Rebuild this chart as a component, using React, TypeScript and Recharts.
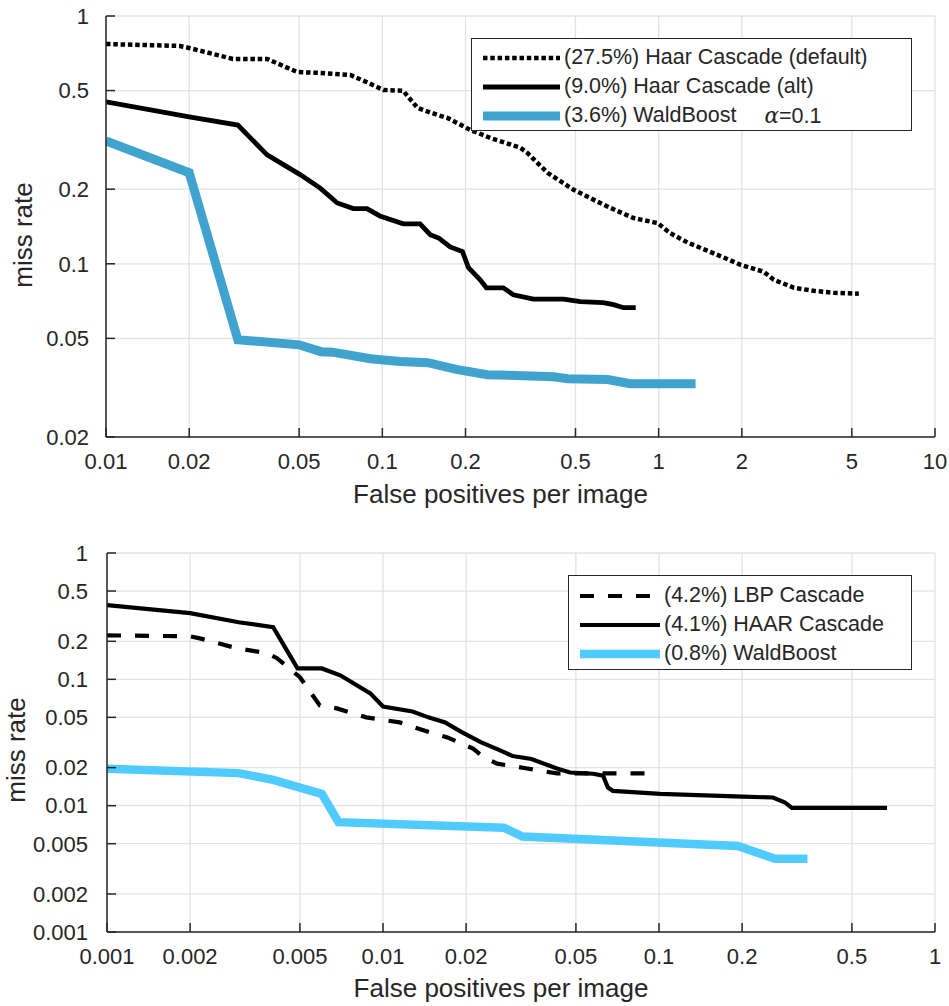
import React from "react";
import { CartesianGrid, Legend, Line, LineChart, XAxis, YAxis } from "recharts";

// top panel, alpha = 0.1
const haarDefaultFp = [0.01, 0.0185, 0.02, 0.0288, 0.0383, 0.0492, 0.058, 0.0664, 0.0766, 0.088, 0.101, 0.119, 0.134, 0.158, 0.172, 0.208, 0.246, 0.316, 0.335, 0.396, 0.492, 0.601, 0.67, 0.811, 0.991, 1.1, 1.27, 1.72, 1.98, 2.4, 2.61, 3.09, 3.63, 4.3, 5.3];
const haarDefaultMiss = [0.771, 0.757, 0.743, 0.671, 0.671, 0.594, 0.59, 0.584, 0.578, 0.54, 0.503, 0.499, 0.426, 0.399, 0.388, 0.347, 0.322, 0.294, 0.28, 0.233, 0.199, 0.178, 0.168, 0.153, 0.146, 0.133, 0.122, 0.106, 0.099, 0.0929, 0.0862, 0.08, 0.0778, 0.0764, 0.0757];

const haarAltFp = [0.01, 0.02, 0.03, 0.0383, 0.0504, 0.0596, 0.0687, 0.0785, 0.088, 0.098, 0.119, 0.137, 0.149, 0.16, 0.176, 0.195, 0.205, 0.226, 0.238, 0.274, 0.298, 0.352, 0.453, 0.521, 0.63, 0.687, 0.746, 0.826];
const haarAltMiss = [0.45, 0.392, 0.363, 0.275, 0.229, 0.202, 0.176, 0.167, 0.167, 0.156, 0.145, 0.145, 0.131, 0.127, 0.117, 0.112, 0.0964, 0.0862, 0.08, 0.08, 0.075, 0.072, 0.072, 0.0703, 0.0697, 0.0684, 0.0665, 0.0665];

const waldTopFp = [0.01, 0.02, 0.03, 0.05, 0.06, 0.066, 0.0906, 0.116, 0.146, 0.187, 0.24, 0.417, 0.468, 0.653, 0.79, 1.36];
const waldTopMiss = [0.313, 0.233, 0.0494, 0.0471, 0.0442, 0.044, 0.0414, 0.0403, 0.0399, 0.0374, 0.0357, 0.035, 0.0344, 0.0341, 0.0328, 0.0328];

// bottom panel
const lbpFp = [0.001, 0.002, 0.00217, 0.00296, 0.0038, 0.00413, 0.005, 0.0059, 0.0068, 0.0087, 0.0115, 0.0152, 0.0171, 0.0212, 0.023, 0.0259, 0.0333, 0.0427, 0.097];
const lbpMiss = [0.223, 0.219, 0.211, 0.176, 0.161, 0.147, 0.104, 0.0622, 0.0589, 0.05, 0.0456, 0.0373, 0.0347, 0.0283, 0.0245, 0.0215, 0.0197, 0.018, 0.018];

const haarFp = [0.001, 0.002, 0.003, 0.004, 0.0049, 0.006, 0.007, 0.009, 0.01, 0.0128, 0.0146, 0.0168, 0.019, 0.0225, 0.0272, 0.0295, 0.0345, 0.0427, 0.0476, 0.0577, 0.0627, 0.0653, 0.068, 0.101, 0.201, 0.259, 0.286, 0.303, 0.67];
const haarMiss = [0.387, 0.334, 0.283, 0.259, 0.122, 0.122, 0.1076, 0.0774, 0.061, 0.0557, 0.05, 0.0456, 0.0389, 0.032, 0.0268, 0.0247, 0.0234, 0.0197, 0.0183, 0.0179, 0.0173, 0.0139, 0.0131, 0.0124, 0.0118, 0.0116, 0.0106, 0.0096, 0.0096];

const waldBottomFp = [0.001, 0.003, 0.004, 0.006, 0.0069, 0.0274, 0.032, 0.193, 0.263, 0.345];
const waldBottomMiss = [0.0196, 0.0181, 0.016, 0.0124, 0.0074, 0.0067, 0.0057, 0.0048, 0.0038, 0.0038];

const topXTicks = [0.01, 0.02, 0.05, 0.1, 0.2, 0.5, 1, 2, 5, 10];
const topYTicks = [0.02, 0.05, 0.1, 0.2, 0.5, 1];
const bottomXTicks = [0.001, 0.002, 0.005, 0.01, 0.02, 0.05, 0.1, 0.2, 0.5, 1];
const bottomYTicks = [0.001, 0.002, 0.005, 0.01, 0.02, 0.05, 0.1, 0.2, 0.5, 1];

const toPoints = (fp: number[], miss: number[]) => fp.map((x, i) => ({ fp: x, miss: miss[i] }));

const INK = "#262626";
const FONT = '"Liberation Sans", Arial, Helvetica, sans-serif';

type Series = {
  name: string;
  data: { fp: number; miss: number }[];
  color: string;
  width: number;
  dash?: string;
  suffix?: boolean;
};

const topSeries: Series[] = [
  { name: "(27.5%) Haar Cascade (default)", data: toPoints(haarDefaultFp, haarDefaultMiss), color: "#000", width: 4.5, dash: "4.5 2.8" },
  { name: "(9.0%) Haar Cascade (alt)", data: toPoints(haarAltFp, haarAltMiss), color: "#000", width: 4.8 },
  { name: "(3.6%) WaldBoost", data: toPoints(waldTopFp, waldTopMiss), color: "#3fa3ce", width: 9, suffix: true },
];

const bottomSeries: Series[] = [
  { name: "(4.2%) LBP Cascade", data: toPoints(lbpFp, lbpMiss), color: "#000", width: 4.2, dash: "14 14" },
  { name: "(4.1%) HAAR Cascade", data: toPoints(haarFp, haarMiss), color: "#000", width: 4.2 },
  { name: "(0.8%) WaldBoost", data: toPoints(waldBottomFp, waldBottomMiss), color: "#4fcbff", width: 8.5 },
];

// legend rows follow the series order, not the sorted payload
const LegendBox = ({ series, sample, padTop }: any) => (
  <div
    style={{
      border: `1.5px solid ${INK}`,
      background: "#fff",
      boxSizing: "border-box",
      width: "100%",
      height: "100%",
      padding: `${padTop}px 0 0 11px`,
      fontFamily: FONT,
      fontSize: 21.5,
      color: INK,
    }}
  >
    {series.map((s: Series) => (
      <div key={s.name} style={{ display: "flex", alignItems: "center", height: 29, whiteSpace: "nowrap" }}>
        <svg width={sample} height={14} style={{ marginRight: 4 }}>
          <line x1={0} x2={sample} y1={7} y2={7} stroke={s.color} strokeWidth={s.width} strokeDasharray={s.dash} />
        </svg>
        <span>{s.name}</span>
        {s.suffix && (
          <span style={{ marginLeft: 28 }}>
            <i style={{ fontFamily: '"DejaVu Serif", "Liberation Serif", serif' }}>α</i>=0.1
          </span>
        )}
      </div>
    ))}
  </div>
);

type PanelProps = {
  height: number;
  top: number;
  series: Series[];
  xDomain: [number, number];
  yDomain: [number, number];
  xTicks: number[];
  yTicks: number[];
  yAxisWidth: number;
  xAxisHeight: number;
  yTickMargin: number;
  xLabelOffset: number;
  yLabelOffset: number;
  yLabelDy: number;
  legend: { left: number; top: number; width: number; height: number; sample: number; padTop: number };
};

const Panel = (p: PanelProps) => (
  <LineChart width={949} height={p.height} margin={{ top: p.top, right: 14, left: 0, bottom: 0 }}>
    <CartesianGrid stroke="#e2e2e2" strokeWidth={1.3} />
    <XAxis
      type="number"
      dataKey="fp"
      scale="log"
      domain={p.xDomain}
      ticks={p.xTicks}
      allowDataOverflow
      interval={0}
      height={p.xAxisHeight}
      tickFormatter={(v: number) => String(v)}
      stroke={INK}
      strokeWidth={1.5}
      tickSize={-9}
      tickMargin={25}
      tick={{ fontSize: 22, fill: INK, fontFamily: FONT }}
      label={{ value: "False positives per image", position: "insideBottom", offset: p.xLabelOffset, dx: -20, fontSize: 26, fill: INK, fontFamily: FONT }}
    />
    <YAxis
      type="number"
      dataKey="miss"
      scale="log"
      domain={p.yDomain}
      ticks={p.yTicks}
      allowDataOverflow
      interval={0}
      width={p.yAxisWidth}
      tickFormatter={(v: number) => String(v)}
      stroke={INK}
      strokeWidth={1.5}
      tickSize={-9}
      tickMargin={p.yTickMargin}
      tick={{ fontSize: 22, fill: INK, fontFamily: FONT }}
      label={{ value: "miss rate", angle: -90, position: "insideLeft", offset: p.yLabelOffset, dy: p.yLabelDy, fontSize: 26, fill: INK, fontFamily: FONT, style: { textAnchor: "middle" } }}
    />
    <Legend
      layout="vertical"
      align="center"
      verticalAlign="middle"
      wrapperStyle={{ left: p.legend.left, top: p.legend.top, width: p.legend.width, height: p.legend.height }}
      content={() => <LegendBox series={p.series} sample={p.legend.sample} padTop={p.legend.padTop} />}
    />
    {p.series.map((s) => (
      <Line
        key={s.name}
        name={s.name}
        data={s.data}
        dataKey="miss"
        type="linear"
        stroke={s.color}
        strokeWidth={s.width}
        strokeDasharray={s.dash}
        dot={false}
        activeDot={false}
        isAnimationActive={false}
      />
    ))}
  </LineChart>
);

export default function App() {
  return (
    <div style={{ position: "absolute", left: 0, top: 0, width: 949, height: 1006, background: "#fff", fontFamily: FONT }}>
      <Panel
        height={510}
        top={16}
        series={topSeries}
        xDomain={[0.01, 10]}
        yDomain={[0.02, 1]}
        xTicks={topXTicks}
        yTicks={topYTicks}
        yAxisWidth={106}
        xAxisHeight={73}
        yTickMargin={26}
        xLabelOffset={7}
        yLabelOffset={23}
        yLabelDy={8.5}
        legend={{ left: 471, top: 38, width: 441, height: 93, sample: 77, padTop: 4 }}
      />
      <Panel
        height={496}
        top={43}
        series={bottomSeries}
        xDomain={[0.001, 1]}
        yDomain={[0.001, 1]}
        xTicks={bottomXTicks}
        yTicks={bottomYTicks}
        yAxisWidth={107}
        xAxisHeight={74}
        yTickMargin={28}
        xLabelOffset={9}
        yLabelOffset={16}
        yLabelDy={7.5}
        legend={{ left: 568, top: 65, width: 344, height: 95, sample: 80, padTop: 5 }}
      />
    </div>
  );
}
